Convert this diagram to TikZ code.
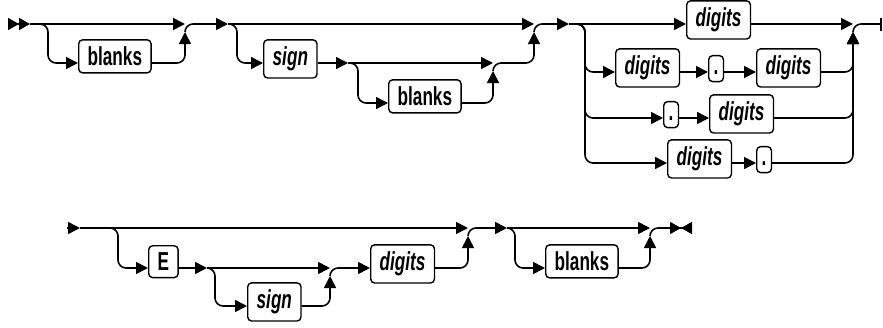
\documentclass[tikz,border=0pt]{standalone}
\usepackage{fontspec}
\setmainfont{Liberation Sans}[FakeStretch=0.66]
\usetikzlibrary{arrows.meta}

\begin{document}
\begin{tikzpicture}[
    x=1pt, y=-1pt,
    box/.style={rectangle, draw, rounded corners=4pt, line width=1.4pt, inner xsep=9pt, inner ysep=7pt, anchor=mid west, font=\fontsize{26}{26}\selectfont\bfseries},
    nt/.style={box, font=\fontsize{26}{26}\selectfont\bfseries\itshape},
    dotbox/.style={box, inner xsep=5pt, text height=12pt, text depth=0pt},
    track/.style={line width=1.6pt, rounded corners=8pt},
    arrow/.style={track, -{Triangle[length=12pt, width=12pt]}}
]
\useasboundingbox (0,0) rectangle (883,327);
\coordinate (s0) at (8,24);
\coordinate (a0) at (30,24);
\coordinate (a1) at (48,24);
\coordinate (j1) at (185,24);
\coordinate (j1up) at (185,32);
\coordinate (a2) at (193,24);
\node[box] (bl1) at (78,63) {blanks};
\draw[track, -{Triangle[length=11pt, width=12pt] Triangle[length=11pt, width=12pt]}] (s0) -- (a0);
\draw[arrow] (a0) -- (j1);
\draw[arrow] (a0) -- (a1) |- (bl1.mid west);
\draw[arrow] (bl1.mid east) -| (j1up);
\draw[track] (j1up) |- (a2);
\coordinate (b0) at (228,24);
\draw[arrow] (a2) -- (b0);
\coordinate (b1) at (237,24);
\coordinate (j2) at (534,24);
\coordinate (j2up) at (534,32);
\coordinate (b2) at (542,24);
\node[nt] (sg1) at (263,63) {sign};
\coordinate (c0) at (348,63);
\coordinate (c1) at (358,63);
\coordinate (j3) at (493,63);
\coordinate (j3up) at (493,71);
\coordinate (c2) at (501,63);
\node[box] (bl2) at (388,103) {blanks};
\draw[arrow] (b0) -- (j2);
\draw[arrow] (b0) -- (b1) |- (sg1.mid west);
\draw[arrow] (sg1.mid east) -- (c0);
\draw[arrow] (c0) -- (j3);
\draw[arrow] (c0) -- (c1) |- (bl2.mid west);
\draw[arrow] (bl2.mid east) -| (j3up);
\draw[track] (j3up) |- (c2);
\draw[arrow] (c2) -| (j2up);
\draw[track] (j2up) |- (b2);
\coordinate (d0) at (569,24);
\draw[arrow] (b2) -- (d0);
\coordinate (d1) at (585,24);
\coordinate (k1) at (853,24);
\coordinate (k1up) at (853,32);
\coordinate (d2) at (861,24);
\coordinate (d3) at (882,24);
\node[nt] (dg1) at (686,24) {digits};
\node[nt] (dg2) at (615,72) {digits};
\node[dotbox] (pt2) at (708,72) {.};
\node[nt] (dg3) at (756,72) {digits};
\node[dotbox] (pt3) at (663,118) {.};
\node[nt] (dg4) at (709,118) {digits};
\node[nt] (dg5) at (667,163) {digits};
\node[dotbox] (pt5) at (756,163) {.};
\draw[arrow] (d0) -- (dg1.mid west);
\draw[arrow] (dg1.mid east) -- (k1);
\draw[arrow] (d0) -- (d1) |- (dg2.mid west);
\draw[arrow] (dg2.mid east) -- (pt2.mid west);
\draw[arrow] (pt2.mid east) -- (dg3.mid west);
\draw[arrow] (dg3.mid east) -| (k1up);
\draw[arrow] (d0) -- (d1) |- (pt3.mid west);
\draw[arrow] (pt3.mid east) -- (dg4.mid west);
\draw[arrow] (dg4.mid east) -| (k1up);
\draw[arrow] (d0) -- (d1) |- (dg5.mid west);
\draw[arrow] (dg5.mid east) -- (pt5.mid west);
\draw[arrow] (pt5.mid east) -| (k1up);
\draw[track] (k1up) |- (d2);
\draw[track, -{Bar[width=13pt]}] (d2) -- (d3);
\coordinate (es) at (67,228);
\coordinate (e0) at (80,228);
\coordinate (e1) at (118,228);
\node[box] (E) at (148,268) {E};
\coordinate (f0) at (207,268);
\coordinate (f1) at (215,268);
\node[nt] (sg2) at (247,306) {sign};
\coordinate (h1) at (330,268);
\coordinate (h1up) at (330,276);
\coordinate (f2) at (338,268);
\node[nt] (dg6) at (370,268) {digits};
\coordinate (m1) at (468,228);
\coordinate (m1up) at (468,236);
\coordinate (e2) at (476,228);
\coordinate (g0) at (507,228);
\coordinate (g1) at (515,228);
\node[box] (bl3) at (545,268) {blanks};
\coordinate (n1) at (650,228);
\coordinate (n1up) at (650,236);
\coordinate (g2) at (658,228);
\coordinate (g3) at (692,228);
\draw[arrow] (es) -- (e0);
\draw[arrow] (e0) -- (m1);
\draw[arrow] (e0) -- (e1) |- (E.mid west);
\draw[arrow] (E.mid east) -- (f0);
\draw[arrow] (f0) -- (h1);
\draw[arrow] (f0) -- (f1) |- (sg2.mid west);
\draw[arrow] (sg2.mid east) -| (h1up);
\draw[track] (h1up) |- (f2);
\draw[arrow] (f2) -- (dg6.mid west);
\draw[arrow] (dg6.mid east) -| (m1up);
\draw[track] (m1up) |- (e2);
\draw[arrow] (e2) -- (g0);
\draw[arrow] (g0) -- (n1);
\draw[arrow] (g0) -- (g1) |- (bl3.mid west);
\draw[arrow] (bl3.mid east) -| (n1up);
\draw[track] (n1up) |- (g2);
\draw[track, -{Triangle[length=11pt, width=12pt] Triangle[length=11pt, width=12pt, reversed]}] (g2) -- (g3);
\end{tikzpicture}
\end{document}
